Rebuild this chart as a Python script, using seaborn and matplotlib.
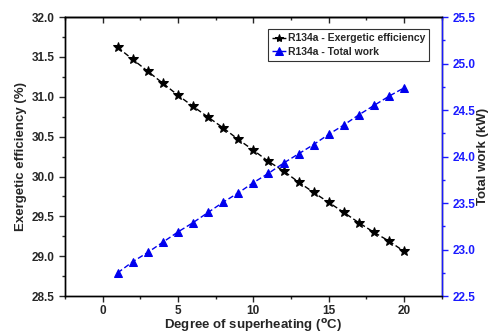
import matplotlib
matplotlib.use("Agg")
import matplotlib.pyplot as plt
from matplotlib.ticker import MultipleLocator
import seaborn as sns
import pandas as pd

superheat = list(range(1, 21))
exergetic_eff = [31.62, 31.47, 31.32, 31.17, 31.02, 30.88, 30.745, 30.61, 30.465, 30.33,
                 30.19, 30.07, 29.93, 29.80, 29.675, 29.55, 29.42, 29.30, 29.19, 29.06]
total_work = [22.75, 22.87, 22.97, 23.08, 23.19, 23.29, 23.40, 23.51, 23.61, 23.72,
              23.82, 23.93, 24.03, 24.13, 24.24, 24.34, 24.45, 24.55, 24.65, 24.74]
label_eff = "R134a - Exergetic efficiency"
label_work = "R134a - Total work"

sns.set_style("ticks")
plt.rcParams['font.family'] = ['Liberation Sans', 'DejaVu Sans']
plt.rcParams['font.weight'] = 'bold'

df = pd.DataFrame({"x": superheat, "eff": exergetic_eff, "work": total_work})

fig = plt.figure(figsize=(4.91, 3.35), dpi=100)
ax = fig.add_axes([0.132, 0.116, 0.768, 0.833])
ax2 = ax.twinx()

blue = "#1a1aff"
sns.lineplot(data=df, x="x", y="eff", ax=ax, color="black", linestyle=(0, (4, 2)),
             marker="*", markersize=7, markeredgecolor="black", linewidth=1.0, label=label_eff, legend=False)
sns.lineplot(data=df, x="x", y="work", ax=ax2, color="#0000ee", linestyle=(0, (4, 2)),
             marker="^", markersize=6, markeredgecolor="#0000ee", linewidth=1.0, label=label_work, legend=False)

ax.set_xlim(-2.5, 22.5)
ax.set_ylim(28.5, 32.0)
ax2.set_ylim(22.5, 25.5)
ax.xaxis.set_major_locator(MultipleLocator(5))
ax.xaxis.set_minor_locator(MultipleLocator(2.5))
ax.yaxis.set_major_locator(MultipleLocator(0.5))
ax.yaxis.set_minor_locator(MultipleLocator(0.25))
ax2.yaxis.set_major_locator(MultipleLocator(0.5))
ax2.yaxis.set_minor_locator(MultipleLocator(0.25))

ax.set_xlabel("Degree of superheating ($\\mathbf{^{o}}$C)", fontsize=9.5, fontweight='bold', labelpad=0)
ax.set_ylabel("Exergetic efficiency (%)", fontsize=9.5, fontweight='bold', labelpad=3)
ax2.set_ylabel("Total work (kW)", fontsize=9.5, fontweight='bold', labelpad=1)

for a in (ax, ax2):
    for s in a.spines.values():
        s.set_linewidth(1.0)
        s.set_color("black")
ax2.spines['right'].set_color(blue)

ax.tick_params(axis='x', which='both', direction='out', top=False, labelsize=8.5, width=1.0, pad=2.5)
ax.tick_params(axis='x', which='major', length=4)
ax.tick_params(axis='x', which='minor', length=2)
ax.tick_params(axis='y', which='both', direction='out', right=False, labelsize=8.5, width=1.0)
ax.tick_params(axis='y', which='major', length=4)
ax.tick_params(axis='y', which='minor', length=2)
ax2.tick_params(axis='y', which='both', direction='out', colors=blue, labelcolor=blue, labelsize=8.5, width=1.0)
ax2.tick_params(axis='y', which='major', length=4)
ax2.tick_params(axis='y', which='minor', length=2)

# top ticks pointing inward
secx = ax.secondary_xaxis('top')
secx.xaxis.set_major_locator(MultipleLocator(5))
secx.xaxis.set_minor_locator(MultipleLocator(2.5))
secx.tick_params(axis='x', which='both', direction='in', labeltop=False, width=1.0)
secx.tick_params(axis='x', which='major', length=4)
secx.tick_params(axis='x', which='minor', length=2)
secx.spines['top'].set_linewidth(1.0)

for lbl in ax.get_xticklabels() + ax.get_yticklabels() + ax2.get_yticklabels():
    lbl.set_fontweight('bold')

h1, l1 = ax.get_legend_handles_labels()
h2, l2 = ax2.get_legend_handles_labels()
leg = ax2.legend(h1 + h2, l1 + l2, loc='upper right', fontsize=7.5, frameon=True, fancybox=False,
                 edgecolor='black', handlelength=1.3, handletextpad=0.2, borderpad=0.4,
                 labelspacing=0.3, bbox_to_anchor=(0.98, 0.975), markerscale=0.85)
leg.get_frame().set_linewidth(0.8)
for t in leg.get_texts():
    t.set_fontweight('bold')

fig.savefig("out.png", dpi=100)
